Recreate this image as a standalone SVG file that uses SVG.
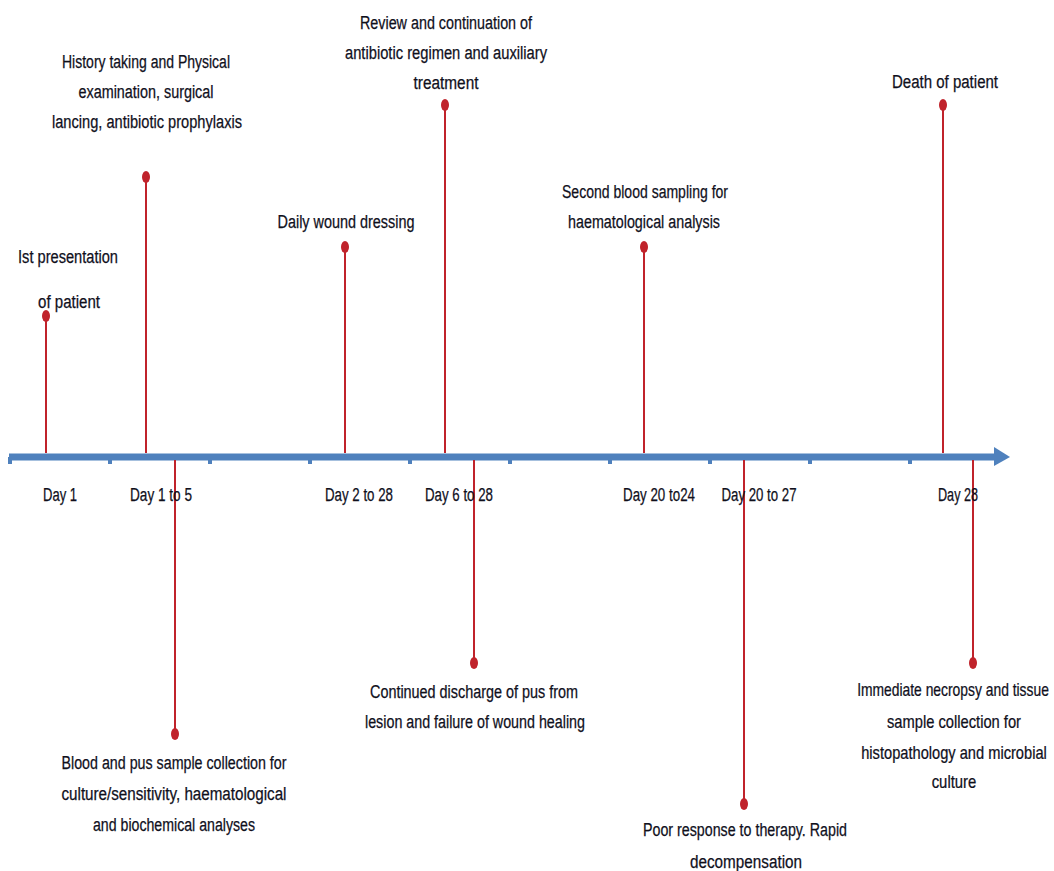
<svg xmlns="http://www.w3.org/2000/svg" width="1054" height="871" viewBox="0 0 1054 871">
<style>
text{font-family:"Liberation Sans",Arial,sans-serif;font-size:18px;fill:#10101c;text-anchor:middle;stroke:#10101c;stroke-width:0.25;}
.stem{stroke:#C0232B;stroke-width:2;fill:none;}
.dot{fill:#C0232B;}
.axis{stroke:#4F81BD;stroke-width:7;fill:none;}
.tick{fill:#4F81BD;}
</style>
<rect width="1054" height="871" fill="#ffffff"/>
<g id="axis">
<line class="axis" x1="9" y1="457" x2="997" y2="457"/>
<polygon fill="#4F81BD" points="994,447 1010,457 994,466"/>
<rect class="tick" x="8" y="457" width="4" height="7"/>
<rect class="tick" x="108" y="457" width="4" height="7"/>
<rect class="tick" x="208" y="457" width="4" height="7"/>
<rect class="tick" x="308" y="457" width="4" height="7"/>
<rect class="tick" x="408" y="457" width="4" height="7"/>
<rect class="tick" x="508" y="457" width="4" height="7"/>
<rect class="tick" x="608" y="457" width="4" height="7"/>
<rect class="tick" x="708" y="457" width="4" height="7"/>
<rect class="tick" x="808" y="457" width="4" height="7"/>
<rect class="tick" x="908" y="457" width="4" height="7"/>
</g>
<g id="connectors">
<line class="stem" x1="46" y1="316" x2="46" y2="453"/>
<line class="stem" x1="146" y1="177" x2="146" y2="453"/>
<line class="stem" x1="345" y1="247" x2="345" y2="453"/>
<line class="stem" x1="445" y1="105" x2="445" y2="453"/>
<line class="stem" x1="644" y1="247" x2="644" y2="453"/>
<line class="stem" x1="943" y1="105" x2="943" y2="453"/>
<line class="stem" x1="175" y1="460" x2="175" y2="734"/>
<line class="stem" x1="474" y1="460" x2="474" y2="663"/>
<line class="stem" x1="744" y1="460" x2="744" y2="804"/>
<line class="stem" x1="973" y1="460" x2="973" y2="663"/>
</g>
<g id="day-labels">
<text x="60" y="501" textLength="34" lengthAdjust="spacingAndGlyphs">Day 1</text>
<text x="161" y="501" textLength="62" lengthAdjust="spacingAndGlyphs">Day 1 to 5</text>
<text x="359" y="501" textLength="68" lengthAdjust="spacingAndGlyphs">Day 2 to 28</text>
<text x="459" y="501" textLength="68" lengthAdjust="spacingAndGlyphs">Day 6 to 28</text>
<text x="659" y="501" textLength="72" lengthAdjust="spacingAndGlyphs">Day 20 to24</text>
<text x="759" y="501" textLength="75" lengthAdjust="spacingAndGlyphs">Day 20 to 27</text>
<text x="958" y="501" textLength="40" lengthAdjust="spacingAndGlyphs">Day 28</text>
</g>
<g id="n1">
<ellipse class="dot" cx="46" cy="316" rx="4" ry="6"/>
<text x="68" y="263" textLength="100" lengthAdjust="spacingAndGlyphs">Ist presentation</text>
<text x="69" y="308" textLength="62" lengthAdjust="spacingAndGlyphs">of patient</text>
</g>
<g id="n2">
<ellipse class="dot" cx="146" cy="177" rx="4" ry="6"/>
<text x="146" y="68" textLength="168" lengthAdjust="spacingAndGlyphs">History taking and Physical</text>
<text x="146" y="98" textLength="135" lengthAdjust="spacingAndGlyphs">examination, surgical</text>
<text x="147" y="128" textLength="190" lengthAdjust="spacingAndGlyphs">lancing, antibiotic prophylaxis</text>
</g>
<g id="n3">
<ellipse class="dot" cx="345" cy="247" rx="4" ry="6"/>
<text x="346" y="228" textLength="137" lengthAdjust="spacingAndGlyphs">Daily wound dressing</text>
</g>
<g id="n4">
<ellipse class="dot" cx="445" cy="105" rx="4" ry="6"/>
<text x="446" y="29" textLength="172" lengthAdjust="spacingAndGlyphs">Review and continuation of</text>
<text x="446" y="59" textLength="202" lengthAdjust="spacingAndGlyphs">antibiotic regimen and auxiliary</text>
<text x="446" y="89" textLength="65" lengthAdjust="spacingAndGlyphs">treatment</text>
</g>
<g id="n5">
<ellipse class="dot" cx="644" cy="247" rx="4" ry="6"/>
<text x="645" y="198" textLength="166" lengthAdjust="spacingAndGlyphs">Second blood sampling for</text>
<text x="644" y="228" textLength="152" lengthAdjust="spacingAndGlyphs">haematological analysis</text>
</g>
<g id="n6">
<ellipse class="dot" cx="943" cy="105" rx="4" ry="6"/>
<text x="945" y="88" textLength="106" lengthAdjust="spacingAndGlyphs">Death of  patient</text>
</g>
<g id="n7">
<ellipse class="dot" cx="175" cy="734" rx="4" ry="6"/>
<text x="174" y="769" textLength="225" lengthAdjust="spacingAndGlyphs">Blood and pus sample collection for</text>
<text x="174" y="800" textLength="225" lengthAdjust="spacingAndGlyphs">culture/sensitivity, haematological</text>
<text x="174" y="831" textLength="162" lengthAdjust="spacingAndGlyphs">and biochemical analyses</text>
</g>
<g id="n8">
<ellipse class="dot" cx="474" cy="663" rx="4" ry="6"/>
<text x="474" y="698" textLength="208" lengthAdjust="spacingAndGlyphs">Continued discharge of pus from</text>
<text x="475" y="728" textLength="220" lengthAdjust="spacingAndGlyphs">lesion and failure of wound healing</text>
</g>
<g id="n9">
<ellipse class="dot" cx="744" cy="804" rx="4" ry="6"/>
<text x="745" y="836" textLength="204" lengthAdjust="spacingAndGlyphs">Poor response to therapy. Rapid</text>
<text x="746" y="868" textLength="112" lengthAdjust="spacingAndGlyphs">decompensation</text>
</g>
<g id="n10">
<ellipse class="dot" cx="973" cy="663" rx="4" ry="6"/>
<text transform="translate(953,696) scale(0.77,1)" x="0" y="0" textLength="249" lengthAdjust="spacingAndGlyphs">Immediate necropsy and tissue</text>
<text transform="translate(954,728) scale(0.77,1)" x="0" y="0" textLength="174" lengthAdjust="spacingAndGlyphs">sample collection for</text>
<text transform="translate(954,759) scale(0.77,1)" x="0" y="0" textLength="241" lengthAdjust="spacingAndGlyphs">histopathology and microbial</text>
<text transform="translate(954,788) scale(0.77,1)" x="0" y="0" textLength="58" lengthAdjust="spacingAndGlyphs">culture</text>
</g>
</svg>
